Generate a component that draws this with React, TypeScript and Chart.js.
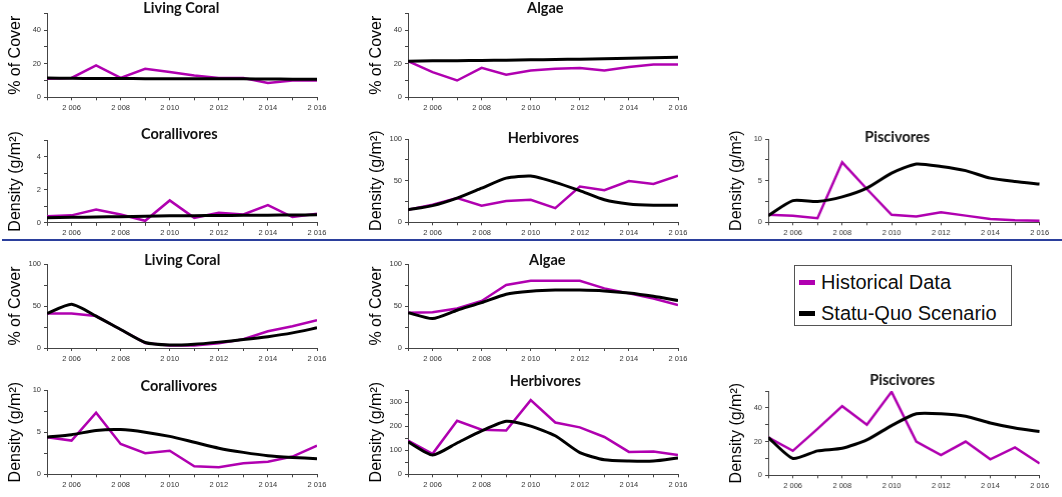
import React, { useEffect, useRef } from 'react';
import { Chart, registerables } from 'chart.js';
Chart.register(...registerables);

// ---------- data ----------
const years = [2005, 2006, 2007, 2008, 2009, 2010, 2011, 2012, 2013, 2014, 2015, 2016];
const yearTickLabels = ['', '2 006', '', '2 008', '', '2 010', '', '2 012', '', '2 014', '', '2 016'];
const seriesNames = ['Historical Data', 'Statu-Quo Scenario'];

const coralTopHist = [11, 11.5, 19, 11.5, 17, 15, 13, 11.5, 11.5, 8.5, 10, 10];
const coralTopSQ = [11.5, 11.3, 11.2, 11.2, 11.1, 11.1, 11, 11, 11, 10.9, 10.8, 10.8];
const algaeTopHist = [21.5, 15, 10, 17.5, 13.5, 16, 17, 17.5, 16, 18, 19.5, 19.5];
const algaeTopSQ = [21.4, 21.7, 21.8, 21.9, 22.1, 22.3, 22.5, 22.7, 23, 23.3, 23.6, 23.9];
const corallTopHist = [0.4, 0.45, 0.8, 0.5, 0.12, 1.35, 0.3, 0.6, 0.5, 1.07, 0.35, 0.55];
const corallTopSQ = [0.3, 0.33, 0.35, 0.37, 0.4, 0.42, 0.43, 0.44, 0.45, 0.46, 0.47, 0.48];
const herbTopHist = [15, 21, 29, 20, 25.5, 27, 17, 43, 38.5, 49.5, 46, 56];
const herbTopSQ = [15, 20, 29, 41, 53, 55.5, 48, 38, 27, 22, 20.5, 20.5];
const piscTopHist = [0.9, 0.8, 0.5, 7.2, 4.0, 0.9, 0.7, 1.2, 0.8, 0.4, 0.25, 0.2];
const piscTopSQ = [0.8, 2.6, 2.5, 3.05, 4.1, 5.9, 7.0, 6.7, 6.2, 5.3, 4.9, 4.6];

const coralBotHist = [41, 41, 38, 22, 6, 3, 3, 5.5, 10.5, 20, 26, 33];
const coralBotSQ = [41, 52, 38, 22, 6.5, 3.5, 4.5, 7, 10, 13.5, 18, 24];
const algaeBotHist = [42, 42.5, 47, 56, 75, 80, 80, 80, 71, 65, 59, 51];
const algaeBotSQ = [42, 35, 45, 54, 64, 67.5, 69, 69, 68, 65.5, 61.5, 56.5];
const corallBotHist = [4.4, 4.0, 7.3, 3.6, 2.5, 2.8, 0.95, 0.85, 1.3, 1.5, 2.1, 3.4];
const corallBotSQ = [4.4, 4.7, 5.2, 5.3, 5.0, 4.5, 3.8, 3.1, 2.6, 2.2, 2.0, 1.85];
const herbBotHist = [140, 85, 222, 185, 182, 308, 215, 195, 155, 93, 95, 80];
const herbBotSQ = [135, 80, 130, 180, 220, 200, 160, 90, 60, 55, 55, 68];
const piscBotHist = [22.5, 14.5, 27.5, 41, 30, 49.5, 20, 12, 20, 9.5, 16.5, 7];
const piscBotSQ = [22.5, 10, 14.5, 16, 21, 29.5, 36.5, 36.5, 35, 31, 28, 26];

// ---------- styles ----------
const HIST_COLOR = '#b000b0';
const SQ_COLOR = '#000000';
const AXIS_COLOR = '#444444';
const COVER = '% of Cover';
const DENSITY = 'Density (g/m\u00B2)';

type PanelDef = {
  title: string; yLabel: string; hist: number[]; sq: number[];
  yMax: number; yStep: number; yMajor: number;
  L: number; R: number; T: number; B: number; tx: number; ty: number; padTop: number;
};

const panels: PanelDef[] = [
  { title: 'Living Coral', yLabel: COVER, hist: coralTopHist, sq: coralTopSQ, yMax: 50, yStep: 10, yMajor: 20,
    L: 46.7, R: 316.7, T: 13.3, B: 97.3, tx: 181, ty: 8.5, padTop: 13.3 },
  { title: 'Algae', yLabel: COVER, hist: algaeTopHist, sq: algaeTopSQ, yMax: 50, yStep: 10, yMajor: 20,
    L: 407.7, R: 677.7, T: 13.3, B: 97.3, tx: 545, ty: 8.5, padTop: 13.3 },
  { title: 'Corallivores', yLabel: DENSITY, hist: corallTopHist, sq: corallTopSQ, yMax: 5, yStep: 1, yMajor: 2,
    L: 46.7, R: 316.7, T: 139.5, B: 222.3, tx: 179, ty: 133.5, padTop: 20 },
  { title: 'Herbivores', yLabel: DENSITY, hist: herbTopHist, sq: herbTopSQ, yMax: 100, yStep: 25, yMajor: 50,
    L: 407.7, R: 677.7, T: 139, B: 222.3, tx: 543, ty: 138, padTop: 20 },
  { title: 'Piscivores', yLabel: DENSITY, hist: piscTopHist, sq: piscTopSQ, yMax: 10, yStep: 2.5, yMajor: 5,
    L: 768.3, R: 1039, T: 139, B: 222.3, tx: 897, ty: 137, padTop: 20 },
  { title: 'Living Coral', yLabel: COVER, hist: coralBotHist, sq: coralBotSQ, yMax: 100, yStep: 25, yMajor: 50,
    L: 46.7, R: 316.7, T: 264.3, B: 348.3, tx: 182, ty: 261, padTop: 20 },
  { title: 'Algae', yLabel: COVER, hist: algaeBotHist, sq: algaeBotSQ, yMax: 100, yStep: 25, yMajor: 50,
    L: 407.7, R: 677.7, T: 264.3, B: 348.3, tx: 547, ty: 261, padTop: 20 },
  { title: 'Corallivores', yLabel: DENSITY, hist: corallBotHist, sq: corallBotSQ, yMax: 10, yStep: 2.5, yMajor: 5,
    L: 46.7, R: 316.7, T: 390, B: 474.3, tx: 178.5, ty: 386.5, padTop: 20 },
  { title: 'Herbivores', yLabel: DENSITY, hist: herbBotHist, sq: herbBotSQ, yMax: 350, yStep: 50, yMajor: 100,
    L: 407.7, R: 677.7, T: 390, B: 474.3, tx: 545, ty: 381, padTop: 20 },
  { title: 'Piscivores', yLabel: DENSITY, hist: piscBotHist, sq: piscBotSQ, yMax: 50, yStep: 10, yMajor: 20,
    L: 768.3, R: 1039, T: 390.7, B: 475, tx: 902, ty: 380, padTop: 20 },
];

const Y_AXIS_W = 47;
const X_AXIS_H = 22;
const PAD_RIGHT = 20;

function Panel({ p }: { p: PanelDef }) {
  const ref = useRef<HTMLCanvasElement | null>(null);
  const left = p.L - Y_AXIS_W;
  const top = p.T - p.padTop;
  const width = p.R - p.L + Y_AXIS_W + PAD_RIGHT;
  const height = p.B - p.T + p.padTop + X_AXIS_H;

  useEffect(() => {
    if (!ref.current) return;
    const titlePlugin = {
      id: 'panelTitle',
      afterDraw(chart: any) {
        const ctx = chart.ctx;
        ctx.save();
        ctx.font = 'bold 14.5px Lato, "Open Sans", sans-serif';
        ctx.fillStyle = '#111';
        ctx.textAlign = 'center';
        ctx.textBaseline = 'middle';
        ctx.fillText(p.title, p.tx - left, p.ty - top);
        ctx.restore();
      },
    };
    const chart = new Chart(ref.current, {
      type: 'line',
      data: {
        labels: years,
        datasets: [
          {
            label: seriesNames[0],
            data: years.map((y, i) => ({ x: y, y: p.hist[i] })),
            borderColor: HIST_COLOR, backgroundColor: HIST_COLOR,
            borderWidth: 2.5, pointRadius: 0, tension: 0, order: 1,
          },
          {
            label: seriesNames[1],
            data: years.map((y, i) => ({ x: y, y: p.sq[i] })),
            borderColor: SQ_COLOR, backgroundColor: SQ_COLOR,
            borderWidth: 3, pointRadius: 0, tension: 0.2, order: 0,
          },
        ],
      },
      options: {
        animation: false,
        responsive: true,
        maintainAspectRatio: false,
        layout: { padding: { left: 0, top: p.padTop, right: PAD_RIGHT, bottom: 0 } },
        plugins: { legend: { display: false }, tooltip: { enabled: false }, title: { display: false } },
        scales: {
          x: {
            type: 'linear', min: 2005, max: 2016,
            afterFit: (s: any) => { s.height = X_AXIS_H; },
            border: { display: true, color: AXIS_COLOR, width: 1 },
            grid: { drawOnChartArea: false, drawTicks: true, tickLength: 3, color: AXIS_COLOR },
            ticks: {
              stepSize: 1, autoSkip: false, maxRotation: 0, padding: 3,
              color: '#333', font: { family: '"Liberation Sans", Arial, sans-serif', size: 7.5 },
              callback: (v: any) => { const i = years.indexOf(Number(v)); return i >= 0 ? yearTickLabels[i] : ''; },
            },
          },
          y: {
            type: 'linear', min: 0, max: p.yMax,
            afterFit: (s: any) => { s.width = Y_AXIS_W; },
            border: { display: true, color: AXIS_COLOR, width: 1 },
            grid: { drawOnChartArea: false, drawTicks: true, tickLength: 3, color: AXIS_COLOR },
            title: {
              display: true, text: p.yLabel, color: '#000',
              font: { family: '"Liberation Sans", Arial, sans-serif', size: 16 },
              padding: { top: 6.4, bottom: 0 },
            },
            ticks: {
              stepSize: p.yStep, autoSkip: false, padding: 3,
              color: '#333', font: { family: '"Liberation Sans", Arial, sans-serif', size: 7.5 },
              callback: (v: any) => (Math.abs(Number(v) % p.yMajor) < 1e-9 ? String(v) : ''),
            },
          },
        },
      },
      plugins: [titlePlugin],
    } as any);
    return () => chart.destroy();
  }, []);

  return (
    <div style={{ position: 'absolute', left, top, width, height }}>
      <canvas ref={ref} />
    </div>
  );
}

function Legend() {
  const row = (color: string, text: string, cy: number) => (
    <div style={{ position: 'absolute', left: 0, top: cy - 13, height: 26, display: 'flex', alignItems: 'center' }}>
      <div style={{ width: 16, height: 5, background: color, marginLeft: 4, marginRight: 6 }} />
      <span style={{ fontFamily: '"Liberation Sans", Arial, sans-serif', fontSize: 20, color: '#111', whiteSpace: 'nowrap' }}>{text}</span>
    </div>
  );
  return (
    <div style={{ position: 'absolute', left: 794, top: 265, width: 218, height: 61, border: '1px solid #555', boxSizing: 'border-box' }}>
      {row(HIST_COLOR, seriesNames[0], 16.5)}
      {row(SQ_COLOR, seriesNames[1], 47.5)}
    </div>
  );
}

export default function App() {
  return (
    <div style={{ position: 'absolute', left: 0, top: 0, width: 1062, height: 497, background: '#fff', overflow: 'hidden' }}>
      {panels.map((p, i) => <Panel key={i} p={p} />)}
      <div style={{ position: 'absolute', left: 2, top: 239, width: 1060, height: 2, background: '#2b3f9c' }} />
      <Legend />
    </div>
  );
}
